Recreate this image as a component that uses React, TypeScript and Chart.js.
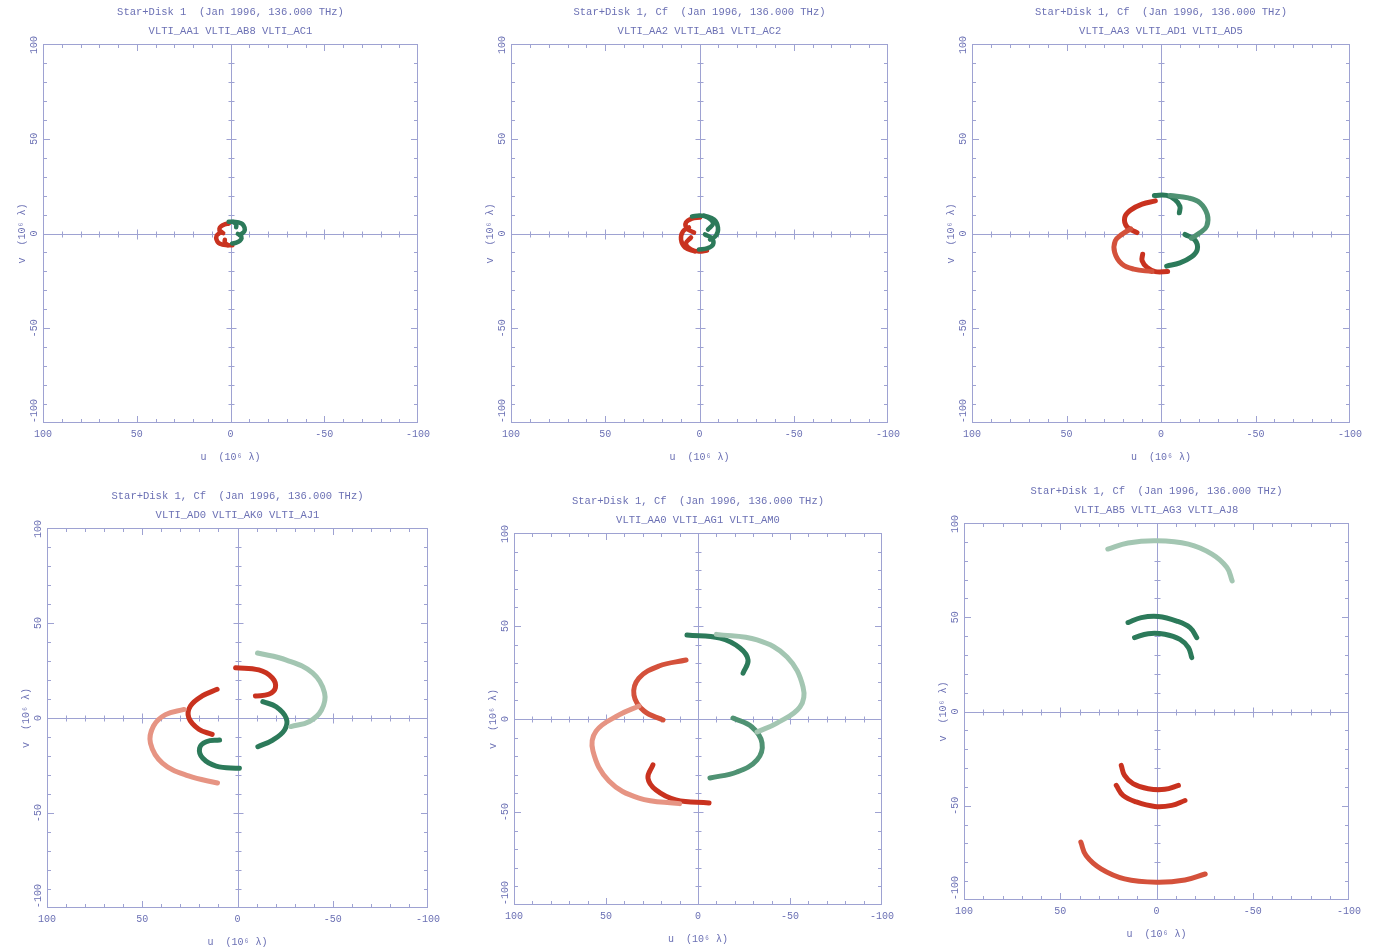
import React, { useEffect, useRef } from "react";
import { Chart, registerables } from "chart.js";

Chart.register(...registerables);

type Pt = [number, number];

// ---------- text ----------
const X_TITLE = "u  (10⁶ λ)";
const Y_TITLE = "v  (10⁶ λ)";
const AXIS_MIN = -100;
const AXIS_MAX = 100;
const MAJOR_STEP = 50;
const MINOR_STEP = 10;

const TITLE_1 = ["Star+Disk 1  (Jan 1996, 136.000 THz)", "VLTI_AA1 VLTI_AB8 VLTI_AC1"];
const TITLE_2 = ["Star+Disk 1, Cf  (Jan 1996, 136.000 THz)", "VLTI_AA2 VLTI_AB1 VLTI_AC2"];
const TITLE_3 = ["Star+Disk 1, Cf  (Jan 1996, 136.000 THz)", "VLTI_AA3 VLTI_AD1 VLTI_AD5"];
const TITLE_4 = ["Star+Disk 1, Cf  (Jan 1996, 136.000 THz)", "VLTI_AD0 VLTI_AK0 VLTI_AJ1"];
const TITLE_5 = ["Star+Disk 1, Cf  (Jan 1996, 136.000 THz)", "VLTI_AA0 VLTI_AG1 VLTI_AM0"];
const TITLE_6 = ["Star+Disk 1, Cf  (Jan 1996, 136.000 THz)", "VLTI_AB5 VLTI_AG3 VLTI_AJ8"];

// ---------- data (u, v) in 10^6 lambda ----------
// Panel 1
const P1_GREEN_A: Pt[] = [[1.0, 6.2], [-1.0, 6.2], [-2.3, 5.5], [-3.1, 4.4], [-3.0, 3.3]];
const P1_GREEN_B: Pt[] = [[-1.5, 6.2], [-4.4, 5.8], [-6.3, 5.0], [-7.5, 3.1], [-7.4, 1.2], [-6.3, 0.1], [-4.9, -0.9]];
const P1_GREEN_C: Pt[] = [[-3.9, -0.2], [-5.5, -1.1], [-5.9, -2.6], [-5.0, -3.8], [-3.1, -4.8], [-0.9, -5.3]];
const P1_RED_A: Pt[] = [[-1.0, -6.2], [1.0, -6.2], [2.3, -5.5], [3.1, -4.4], [3.0, -3.3]];
const P1_RED_B: Pt[] = [[1.5, -6.2], [4.4, -5.8], [6.3, -5.0], [7.5, -3.1], [7.4, -1.2], [6.3, -0.1], [4.9, 0.9]];
const P1_RED_C: Pt[] = [[3.9, 0.2], [5.5, 1.1], [5.9, 2.6], [5.0, 3.8], [3.1, 4.8], [0.9, 5.3]];

// Panel 2
const P2_GREEN_A: Pt[] = [[4, 9], [-0.3, 9.5], [-4.5, 8.4], [-7.2, 5.3], [-4.5, 2.1]];
const P2_GREEN_B: Pt[] = [[-2.4, 9.5], [-7.7, 7.4], [-9.8, 3.2], [-8.8, -1.1], [-5.6, -3.2]];
const P2_GREEN_C: Pt[] = [[-2.9, -0.5], [-6.6, -2.6], [-7.2, -5.8], [-4, -7.9], [0.3, -8.4]];
const P2_RED_A: Pt[] = [[-4, -9], [0.3, -9.5], [4.5, -8.4], [7.2, -5.3], [4.5, -2.1]];
const P2_RED_B: Pt[] = [[2.4, -9.5], [7.7, -7.4], [9.8, -3.2], [8.8, 1.1], [5.6, 3.2]];
const P2_RED_C: Pt[] = [[2.9, 0.5], [6.6, 2.6], [7.2, 5.8], [4, 7.9], [-0.3, 8.4]];

// Panel 3
const P3_GREEN_A: Pt[] = [[3.5, 20.1], [-3, 20.1], [-7.4, 17.9], [-10, 14.4], [-9.7, 10.9]];
const P3_GREEN_B: Pt[] = [[-4.8, 20.1], [-14.4, 18.8], [-20.6, 16.2], [-24.5, 10], [-24.2, 3.9], [-20.6, 0.4], [-16, -2.5]];
const P3_GREEN_C: Pt[] = [[-12.7, -0.5], [-18, -3.5], [-19.2, -8.4], [-16.2, -12.3], [-10, -15.5], [-3, -17.2]];
const P3_RED_A: Pt[] = [[-3.5, -20.1], [3, -20.1], [7.4, -17.9], [10, -14.4], [9.7, -10.9]];
const P3_RED_B: Pt[] = [[4.8, -20.1], [14.4, -18.8], [20.6, -16.2], [24.5, -10], [24.2, -3.9], [20.6, -0.4], [16, 2.5]];
const P3_RED_C: Pt[] = [[12.7, 0.5], [18, 3.5], [19.2, 8.4], [16.2, 12.3], [10, 15.5], [3, 17.2]];

// Panel 4
const P4_GREEN_OUT: Pt[] = [[-10.5, 34.2], [-25.7, 30.5], [-39.4, 23.7], [-45.7, 13.2], [-44.1, 4.2], [-37.8, -1.8], [-28, -4.5]];
const P4_GREEN_RIGHT: Pt[] = [[-13.3, 8.6], [-20.3, 5.9], [-25.6, -0.2], [-24.7, -6.3], [-18.5, -11.6], [-10.7, -15.1]];
const P4_GREEN_LOW: Pt[] = [[9.4, -11.6], [16.4, -12.5], [19.9, -15.9], [18.2, -21.2], [11.2, -25.3], [-1, -26.5]];
const P4_RED_OUT: Pt[] = [[10.5, -34.2], [25.7, -30.5], [39.4, -23.7], [45.7, -13.2], [44.1, -4.2], [37.8, 1.8], [28, 4.5]];
const P4_RED_LEFT: Pt[] = [[13.3, -8.6], [20.3, -5.9], [25.6, 0.2], [24.7, 6.3], [18.5, 11.6], [10.7, 15.1]];
const P4_RED_UP: Pt[] = [[-9.4, 11.6], [-16.4, 12.5], [-19.9, 15.9], [-18.2, 21.2], [-11.2, 25.3], [1, 26.5]];

// Panel 5
const P5_GREEN_1: Pt[] = [[6, 45.2], [-12, 43.5], [-22.8, 38.2], [-27.2, 31.7], [-24.5, 24.7]];
const P5_GREEN_2: Pt[] = [[-10, 45.5], [-32.1, 42.5], [-48.4, 33.3], [-57.1, 17.2], [-55.4, 6.5], [-42.9, -2.2], [-32.1, -7]];
const P5_GREEN_3: Pt[] = [[-19, 0.5], [-29.3, -4.3], [-34.8, -12.9], [-32.1, -22], [-21.2, -28.5], [-6.5, -31.7]];
const P5_RED_1: Pt[] = [[-6, -45.2], [12, -43.5], [22.8, -38.2], [27.2, -31.7], [24.5, -24.7]];
const P5_RED_2: Pt[] = [[10, -45.5], [32.1, -42.5], [48.4, -33.3], [57.1, -17.2], [55.4, -6.5], [42.9, 2.2], [32.1, 7]];
const P5_RED_3: Pt[] = [[19, -0.5], [29.3, 4.3], [34.8, 12.9], [32.1, 22], [21.2, 28.5], [6.5, 31.7]];

// Panel 6
const P6_GREEN_TOP: Pt[] = [[25.3, 86.2], [14.8, 89.4], [0, 90.6], [-16.6, 88.8], [-28.8, 83.5], [-36.6, 76.4], [-39.3, 69.3]];
const P6_GREEN_UP: Pt[] = [[14.8, 47.2], [7.9, 49.8], [-0.9, 50.4], [-10.5, 48], [-17.4, 44.5], [-20.9, 39.2]];
const P6_GREEN_LOW: Pt[] = [[11.4, 39.2], [4.3, 41.3], [-4.3, 41], [-12.2, 38.3], [-16.6, 33.9], [-18.3, 28.6]];
const P6_RED_BOT: Pt[] = [[-25.3, -86.2], [-14.8, -89.4], [0, -90.6], [16.6, -88.8], [28.8, -83.5], [36.6, -76.4], [39.3, -69.3]];
const P6_RED_LOW: Pt[] = [[-14.8, -47.2], [-7.9, -49.8], [0.9, -50.4], [10.5, -48], [17.4, -44.5], [20.9, -39.2]];
const P6_RED_UP: Pt[] = [[-11.4, -39.2], [-4.3, -41.3], [4.3, -41], [12.2, -38.3], [16.6, -33.9], [18.3, -28.6]];

// ---------- styles ----------
const TEXT_COLOR = "#6b70b4";
const AXIS_COLOR = "#9ea2d2";
const FONT = "'Liberation Mono', 'DejaVu Sans Mono', monospace";

const G_DARK = "#2c7a5a";
const G_MED = "#4f9273";
const G_LIGHT = "#a3c6b2";
const R_DARK = "#c9321f";
const R_MED = "#d4513b";
const R_LIGHT = "#e69483";

type Series = { points: Pt[]; color: string; width?: number };
type Panel = {
  left: number; top: number; right: number; bottom: number;
  title: string[];
  series: Series[];
};

const PANELS: Panel[] = [
  {
    left: 43, top: 44, right: 418, bottom: 423, title: TITLE_1,
    series: [
      { points: P1_GREEN_B, color: G_DARK, width: 4.5 },
      { points: P1_GREEN_A, color: G_DARK, width: 4.5 },
      { points: P1_GREEN_C, color: G_DARK, width: 4.5 },
      { points: P1_RED_B, color: R_DARK, width: 4.5 },
      { points: P1_RED_A, color: R_DARK, width: 4.5 },
      { points: P1_RED_C, color: R_DARK, width: 4.5 },
    ],
  },
  {
    left: 511, top: 44, right: 888, bottom: 423, title: TITLE_2,
    series: [
      { points: P2_GREEN_B, color: G_DARK, width: 4.5 },
      { points: P2_GREEN_A, color: G_DARK, width: 4.5 },
      { points: P2_GREEN_C, color: G_DARK, width: 4.5 },
      { points: P2_RED_B, color: R_DARK, width: 4.5 },
      { points: P2_RED_A, color: R_DARK, width: 4.5 },
      { points: P2_RED_C, color: R_DARK, width: 4.5 },
    ],
  },
  {
    left: 972, top: 44, right: 1350, bottom: 423, title: TITLE_3,
    series: [
      { points: P3_GREEN_B, color: G_MED },
      { points: P3_GREEN_A, color: G_DARK },
      { points: P3_GREEN_C, color: G_DARK },
      { points: P3_RED_B, color: R_MED },
      { points: P3_RED_A, color: R_DARK },
      { points: P3_RED_C, color: R_DARK },
    ],
  },
  {
    left: 47, top: 528, right: 428, bottom: 908, title: TITLE_4,
    series: [
      { points: P4_GREEN_OUT, color: G_LIGHT },
      { points: P4_GREEN_RIGHT, color: G_DARK },
      { points: P4_GREEN_LOW, color: G_DARK },
      { points: P4_RED_OUT, color: R_LIGHT },
      { points: P4_RED_LEFT, color: R_DARK },
      { points: P4_RED_UP, color: R_DARK },
    ],
  },
  {
    left: 514, top: 533, right: 882, bottom: 905, title: TITLE_5,
    series: [
      { points: P5_GREEN_2, color: G_LIGHT },
      { points: P5_GREEN_3, color: G_MED },
      { points: P5_GREEN_1, color: G_DARK },
      { points: P5_RED_2, color: R_LIGHT },
      { points: P5_RED_3, color: R_MED },
      { points: P5_RED_1, color: R_DARK },
    ],
  },
  {
    left: 964, top: 523, right: 1349, bottom: 900, title: TITLE_6,
    series: [
      { points: P6_GREEN_TOP, color: G_LIGHT },
      { points: P6_GREEN_UP, color: G_DARK },
      { points: P6_GREEN_LOW, color: G_DARK },
      { points: P6_RED_BOT, color: R_MED },
      { points: P6_RED_LOW, color: R_DARK },
      { points: P6_RED_UP, color: R_DARK },
    ],
  },
];

// geometry of the canvas around each plot area
const PAD_LEFT = 10;
const Y_AXIS_W = 30;
const PAD_RIGHT = 20;
const TITLE_H = 44;
const X_AXIS_H = 44;
const PAD_BOTTOM = 4;

const uvAxesPlugin = {
  id: "uvAxes",
  beforeDatasetsDraw(chart: any) {
    const { ctx, chartArea } = chart;
    const { left, right, top, bottom } = chartArea;
    const xs = chart.scales.x;
    const ys = chart.scales.y;
    ctx.save();
    ctx.strokeStyle = AXIS_COLOR;
    ctx.lineWidth = 1;
    const line = (x1: number, y1: number, x2: number, y2: number) => {
      ctx.beginPath();
      ctx.moveTo(x1, y1);
      ctx.lineTo(x2, y2);
      ctx.stroke();
    };
    ctx.strokeRect(Math.round(left) + 0.5, Math.round(top) + 0.5, Math.round(right - left) - 1, Math.round(bottom - top) - 1);
    const x0 = Math.round(xs.getPixelForValue(0)) + 0.5;
    const y0 = Math.round(ys.getPixelForValue(0)) + 0.5;
    line(x0, top, x0, bottom);
    line(left, y0, right, y0);
    for (let v = AXIS_MIN + MINOR_STEP; v < AXIS_MAX; v += MINOR_STEP) {
      const major = v % MAJOR_STEP === 0;
      const len = major ? 7 : 4;
      const cross = major ? 5 : 3;
      const px = Math.round(xs.getPixelForValue(v)) + 0.5;
      const py = Math.round(ys.getPixelForValue(v)) + 0.5;
      line(px, bottom, px, bottom - len);
      line(px, top, px, top + len);
      line(left, py, left + len, py);
      line(right, py, right - len, py);
      if (v !== 0) {
        line(px, y0 - cross, px, y0 + cross);
        line(x0 - cross, py, x0 + cross, py);
      }
    }
    // rotated y tick labels
    ctx.fillStyle = TEXT_COLOR;
    ctx.font = `10px ${FONT}`;
    ctx.textAlign = "center";
    ctx.textBaseline = "middle";
    for (const t of ys.ticks) {
      const label = String(t.value);
      const w = ctx.measureText(label).width;
      let py = ys.getPixelForValue(t.value);
      py = Math.max(top + w / 2 - 8, Math.min(bottom - w / 2, py));
      ctx.save();
      ctx.translate(left - 9, py);
      ctx.rotate(-Math.PI / 2);
      ctx.fillText(label, 0, 0);
      ctx.restore();
    }
    ctx.restore();
  },
};

function UVPanel({ panel }: { panel: Panel }) {
  const ref = useRef<HTMLCanvasElement | null>(null);
  const W = panel.right - panel.left + PAD_LEFT + Y_AXIS_W + PAD_RIGHT;
  const H = panel.bottom - panel.top + TITLE_H + X_AXIS_H + PAD_BOTTOM;
  const cLeft = panel.left - PAD_LEFT - Y_AXIS_W;
  const cTop = panel.top - TITLE_H;

  useEffect(() => {
    if (!ref.current) return;
    const chart = new Chart(ref.current, {
      type: "scatter",
      data: {
        datasets: panel.series.map((s) => ({
          data: s.points.map(([u, v]) => ({ x: u, y: v })),
          showLine: true,
          borderColor: s.color,
          backgroundColor: s.color,
          borderWidth: s.width ?? 5,
          borderCapStyle: "round",
          pointRadius: 0,
          pointHoverRadius: 0,
          tension: 0.4,
          fill: false,
        })),
      },
      options: {
        responsive: false,
        animation: false,
        devicePixelRatio: 1,
        layout: { padding: { left: PAD_LEFT, right: PAD_RIGHT, top: 0, bottom: PAD_BOTTOM } },
        plugins: {
          legend: { display: false },
          tooltip: { enabled: false },
          title: {
            display: true,
            text: panel.title,
            fullSize: false,
            color: TEXT_COLOR,
            font: { family: FONT, size: 10.5, weight: "normal", lineHeight: 1.81 },
            padding: { top: 3, bottom: 3 },
          },
        },
        scales: {
          x: {
            type: "linear",
            min: AXIS_MIN,
            max: AXIS_MAX,
            reverse: true,
            grid: { display: false, drawTicks: false, tickLength: 0 },
            border: { display: false },
            ticks: {
              stepSize: MAJOR_STEP,
              color: TEXT_COLOR,
              font: { family: FONT, size: 10 },
              padding: 5,
              maxRotation: 0,
              autoSkip: false,
            },
            title: {
              display: true,
              text: X_TITLE,
              color: TEXT_COLOR,
              font: { family: FONT, size: 10 },
              padding: { top: 0, bottom: 4 },
            },
            afterFit: (s: any) => {
              s.height = X_AXIS_H;
            },
          },
          y: {
            type: "linear",
            min: AXIS_MIN,
            max: AXIS_MAX,
            grid: { display: false, drawTicks: false, tickLength: 0 },
            border: { display: false },
            ticks: { display: false, stepSize: MAJOR_STEP },
            title: {
              display: true,
              text: Y_TITLE,
              color: TEXT_COLOR,
              font: { family: FONT, size: 10 },
              padding: { top: 3, bottom: 0 },
            },
            afterFit: (s: any) => {
              s.width = Y_AXIS_W;
            },
          },
        },
      } as any,
      plugins: [uvAxesPlugin],
    });
    return () => chart.destroy();
  }, [panel]);

  return (
    <canvas
      ref={ref}
      width={W}
      height={H}
      style={{ position: "absolute", left: cLeft, top: cTop, width: W, height: H }}
    />
  );
}

export default function App() {
  return (
    <div style={{ position: "absolute", left: 0, top: 0, width: 1380, height: 952, background: "#ffffff" }}>
      {PANELS.map((p, i) => (
        <UVPanel key={i} panel={p} />
      ))}
    </div>
  );
}
